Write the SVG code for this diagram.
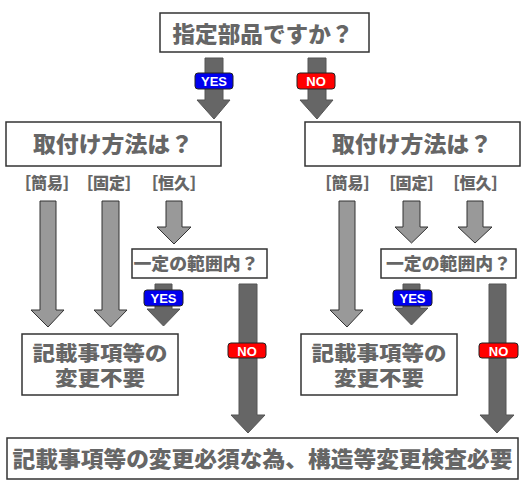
<svg xmlns="http://www.w3.org/2000/svg" width="525" height="500" viewBox="0 0 525 500">
<style>
.box{fill:#fff;stroke:#333;stroke-width:1.5}
.t{font-family:"Noto Sans CJK JP","Noto Sans",sans-serif;font-weight:900;fill:#666;text-anchor:middle}
.la{fill:#999;stroke:#333;stroke-width:1}
.da{fill:#666;stroke:#555;stroke-width:1}
.yes{fill:#0000ee;stroke:#222;stroke-width:1}
.no{fill:#ff0000;stroke:#222;stroke-width:1}
.lt{font-family:"Liberation Sans",Arial,sans-serif;font-weight:bold;font-size:13px;fill:#fff;text-anchor:middle}
.br{font-family:"Noto Sans CJK JP",sans-serif;font-weight:900;font-size:16px;fill:#666;text-anchor:middle}
</style>
<rect width="525" height="500" fill="#fff"/>
<g id="connectors">
<polygon class="da" points="205,58 223,58 223,100 230,100 214,119 197,100 205,100"/>
<polygon class="da" points="308,58 326,58 326,100 333,100 317,119 300,100 308,100"/>
<polygon class="la" points="40,201 56,201 56,310 64,310 48,327 31,310 40,310"/>
<polygon class="la" points="102,201 119,201 119,310 127,310 110.5,327 94,310 102,310"/>
<polygon class="la" points="166,201 182,201 182,227 191,227 174,244 157,227 166,227"/>
<polygon class="da" points="155,284 172,284 172,309 180,309 163.5,326 147,309 155,309"/>
<polygon class="da" points="239,284 257,284 257,415 265,415 248,433 231,415 239,415"/>
<polygon class="la" points="339,201 355,201 355,310 363,310 347,327 330,310 339,310"/>
<polygon class="la" points="403,201 420,201 420,227 428,227 411.5,243 395,227 403,227"/>
<polygon class="la" points="467,201 483,201 483,227 492,227 475,243 458,227 467,227"/>
<polygon class="da" points="403,284 420,284 420,308 428,308 411.5,325 395,308 403,308"/>
<polygon class="da" points="489,284 506,284 506,415 514,415 497,433 480,415 489,415"/>
<rect class="yes" x="195" y="73" width="38" height="16" rx="3"/>
<text class="lt" x="214" y="86">YES</text>
<rect class="no" x="297" y="73" width="38" height="16" rx="3"/>
<text class="lt" x="316" y="86">NO</text>
<rect class="yes" x="144" y="290" width="39" height="16" rx="3"/>
<text class="lt" x="163.5" y="303">YES</text>
<rect class="no" x="228" y="343" width="38" height="15" rx="3"/>
<text class="lt" x="247" y="355.5">NO</text>
<rect class="yes" x="393" y="290" width="39" height="16" rx="3"/>
<text class="lt" x="412.5" y="303">YES</text>
<rect class="no" x="479" y="343" width="39" height="15" rx="3"/>
<text class="lt" x="498.5" y="355.5">NO</text>
</g>
<g id="q1">
<rect class="box" x="160" y="13" width="209" height="39"/>
<text class="t" x="263" y="42" font-size="22" textLength="181" lengthAdjust="spacingAndGlyphs">指定部品ですか？</text>
</g>
<g id="q2-left">
<rect class="box" x="6" y="122" width="215" height="44"/>
<text class="t" x="113" y="152" font-size="22" textLength="160" lengthAdjust="spacingAndGlyphs">取付け方法は？</text>
</g>
<g id="q2-right">
<rect class="box" x="305" y="122" width="215" height="44"/>
<text class="t" x="412" y="152" font-size="22" textLength="160" lengthAdjust="spacingAndGlyphs">取付け方法は？</text>
</g>
<g id="labels-left">
<text class="br" x="47" y="189">［簡易］</text>
<text class="br" x="109" y="189">［固定］</text>
<text class="br" x="174" y="189">［恒久］</text>
</g>
<g id="labels-right">
<text class="br" x="347.5" y="189">［簡易］</text>
<text class="br" x="411.5" y="189">［固定］</text>
<text class="br" x="475.5" y="189">［恒久］</text>
</g>
<g id="q3-left">
<rect class="box" x="132" y="249" width="135" height="29"/>
<text class="t" x="196" y="270" font-size="17" textLength="125" lengthAdjust="spacingAndGlyphs">一定の範囲内？</text>
</g>
<g id="q3-right">
<rect class="box" x="381" y="249" width="135" height="29"/>
<text class="t" x="448.5" y="270" font-size="17" textLength="125" lengthAdjust="spacingAndGlyphs">一定の範囲内？</text>
</g>
<g id="r-left">
<rect class="box" x="22" y="334" width="156" height="61"/>
<text class="t" x="100" y="361" font-size="20" textLength="135" lengthAdjust="spacingAndGlyphs">記載事項等の</text>
<text class="t" x="100" y="386" font-size="20" textLength="90" lengthAdjust="spacingAndGlyphs">変更不要</text>
</g>
<g id="r-right">
<rect class="box" x="301" y="334" width="156" height="61"/>
<text class="t" x="379" y="361" font-size="20" textLength="135" lengthAdjust="spacingAndGlyphs">記載事項等の</text>
<text class="t" x="379" y="386" font-size="20" textLength="90" lengthAdjust="spacingAndGlyphs">変更不要</text>
</g>
<g id="r-bottom">
<rect class="box" x="7" y="438" width="511" height="41"/>
<text class="t" x="262.5" y="467" font-size="22" textLength="500" lengthAdjust="spacingAndGlyphs">記載事項等の変更必須な為、構造等変更検査必要</text>
</g>
</svg>
